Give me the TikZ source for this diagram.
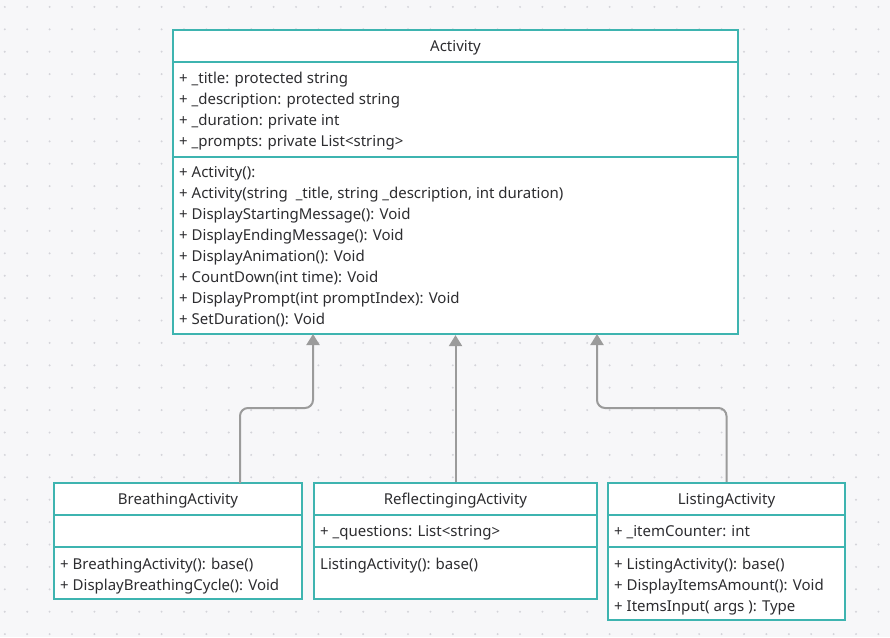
\documentclass[tikz,border=0pt]{standalone}
\usepackage{fontspec}
\setmainfont{Noto Sans}
\usetikzlibrary{arrows.meta}
\definecolor{umlteal}{RGB}{62,180,176}
\definecolor{umltext}{RGB}{45,45,48}
\definecolor{umlgrey}{RGB}{155,155,155}
\definecolor{paper}{RGB}{247,247,249}
\definecolor{dotgrey}{RGB}{212,212,218}
\tikzstyle{box} = [draw=umlteal, line width=2.2pt, fill=white, inner sep=0]
\tikzstyle{head} = [text=umltext, font=\fontsize{15}{21}\selectfont, yshift=-1.5pt]
\tikzstyle{txt} = [text=umltext, font=\fontsize{15}{21}\selectfont, align=left, inner sep=0, anchor=north west]
\tikzstyle{inherit} = [-{Triangle[width=13pt,length=11pt]}, draw=umlgrey, line width=2pt, rounded corners=8pt]

\begin{document}
\begin{tikzpicture}[x=1pt,y=-1pt]
        \fill[paper] (0,0) rectangle (890,637);
        \useasboundingbox (0,0) rectangle (890,637);
        \foreach \i in {0,...,39}
            \foreach \j in {0,...,28}
                \fill[dotgrey] (4.8+22.4*\i,6.9+22.4*\j) circle (1.1pt);

        \node[box, minimum width=565, minimum height=32] at (455.5,46) (actTitle) {};
        \node[box, minimum width=565, minimum height=95] at (455.5,109.5) (actAttr) {};
        \node[box, minimum width=565, minimum height=177] at (455.5,245.5) (actOps) {};
        \node[head] at (actTitle) {Activity};
        \node[txt] at (179,71.5) (actAttrTxt) {+ \_title: protected string\\+ \_description: protected string\\+ \_duration: private int\\+ \_prompts: private List<string>};
        \node[txt] at (179,166.5) (actOpsTxt) {+ Activity():\\+ Activity(string\ \ \_title, string \_description, int duration)\\+ DisplayStartingMessage(): Void\\+ DisplayEndingMessage(): Void\\+ DisplayAnimation(): Void\\+ CountDown(int time): Void\\+ DisplayPrompt(int promptIndex): Void\\+ SetDuration(): Void};

        \node[box, minimum width=248, minimum height=32] at (178,499) (brTitle) {};
        \node[box, minimum width=248, minimum height=32] at (178,531) (brAttr) {};
        \node[box, minimum width=248, minimum height=52] at (178,573) (brOps) {};
        \node[head] at (brTitle) {BreathingActivity};
        \node[txt] at (60,557.5) (brOpsTxt) {+ BreathingActivity(): base()\\+ DisplayBreathingCycle(): Void};

        \node[box, minimum width=283, minimum height=32] at (455.5,499) (rfTitle) {};
        \node[box, minimum width=283, minimum height=32] at (455.5,531) (rfAttr) {};
        \node[box, minimum width=283, minimum height=52] at (455.5,573) (rfOps) {};
        \node[head] at (rfTitle) {ReflectingingActivity};
        \node[txt] at (320,525.5) (rfAttrTxt) {+ \_questions: List<string>};
        \node[txt] at (320,557.5) (rfOpsTxt) {ListingActivity(): base()};

        \node[box, minimum width=237, minimum height=32] at (726.5,499) (lsTitle) {};
        \node[box, minimum width=237, minimum height=32] at (726.5,531) (lsAttr) {};
        \node[box, minimum width=237, minimum height=73] at (726.5,583.5) (lsOps) {};
        \node[head] at (lsTitle) {ListingActivity};
        \node[txt] at (614,525.5) (lsAttrTxt) {+ \_itemCounter: int};
        \node[txt] at (614,557.5) (lsOpsTxt) {+ ListingActivity(): base()\\+ DisplayItemsAmount(): Void\\+ ItemsInput( args ): Type};

        \coordinate (brUp) at (240,483);
        \coordinate (brBend) at (313,408);
        \coordinate (brIn) at (313,334);
        \coordinate (lsBend) at (597,408);
        \coordinate (lsIn) at (597,334);

        \draw[inherit] (brUp) |- (brBend) -- (brIn);
        \draw[inherit] (rfTitle.north) -- (actOps.south);
        \draw[inherit] (lsTitle.north) |- (lsBend) -- (lsIn);
\end{tikzpicture}
\end{document}
